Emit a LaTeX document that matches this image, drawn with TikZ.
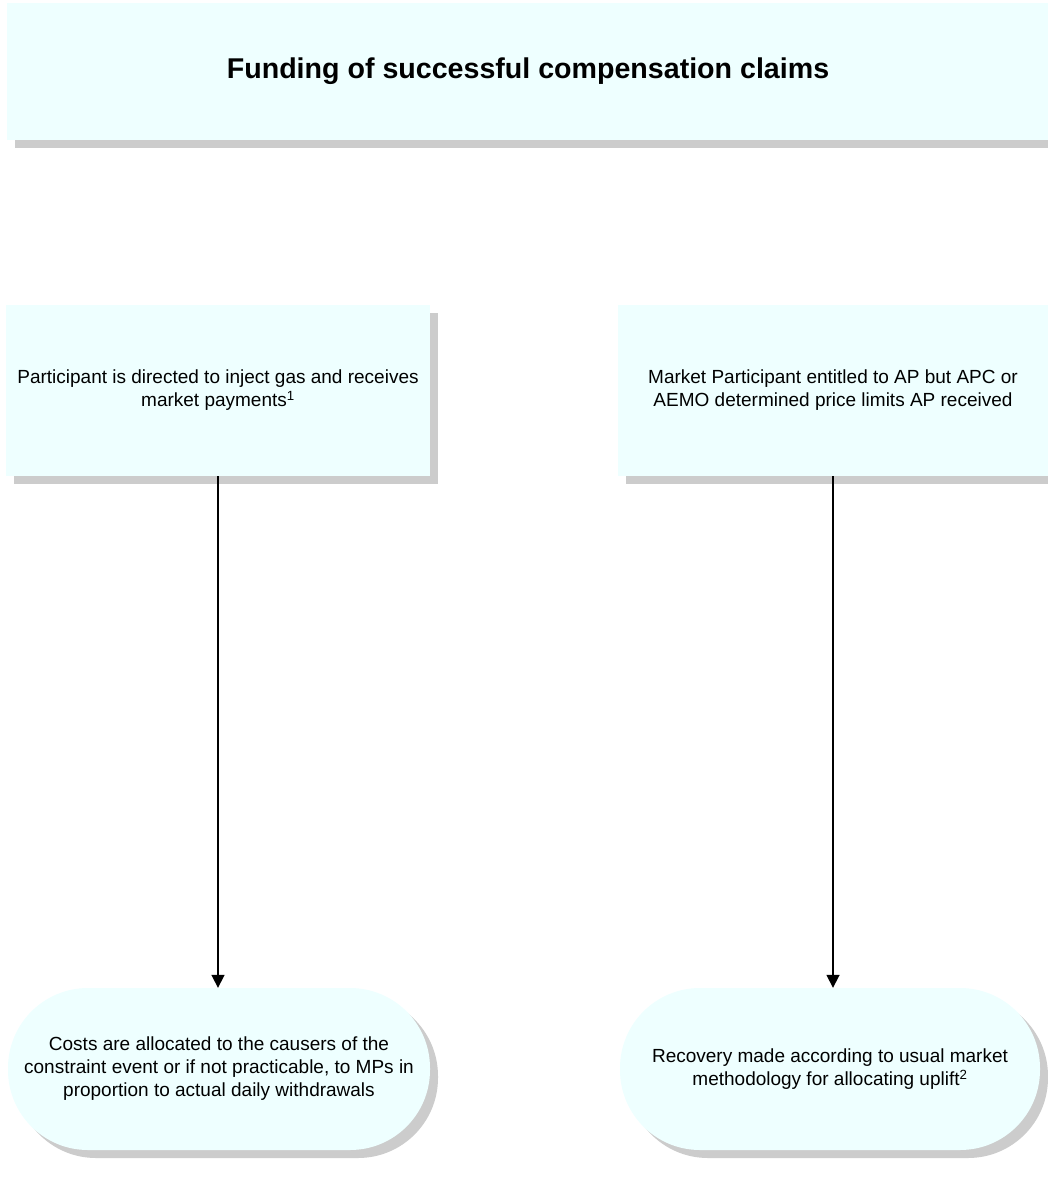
\documentclass[tikz,border=0pt]{standalone}
\usepackage{fontspec}
\setmainfont{Liberation Sans}
\usetikzlibrary{shadows,arrows.meta,shapes.misc}
\definecolor{boxfill}{HTML}{EEFFFF}
\definecolor{shadowgray}{HTML}{CCCCCC}
\tikzset{
  shad/.style={drop shadow={shadow xshift=8pt, shadow yshift=-8pt, fill=shadowgray, opacity=1}},
  bodytext/.style={font=\fontsize{19}{23}\selectfont, align=center, text=black},
  flatbox/.style={rectangle, fill=boxfill, draw=none, inner sep=0pt, shad, bodytext},
  pill/.style={rectangle, rounded corners=80pt, fill=boxfill, draw=none, inner sep=0pt, shad, bodytext},
  conn/.style={line width=1.7pt, -{Triangle[width=13pt,length=13pt]}},
}
\begin{document}
\begin{tikzpicture}[x=1pt,y=-1pt]
\useasboundingbox (0,0) rectangle (1048,1192);
\clip (0,0) rectangle (1048,1192);
\fill[white] (0,0) rectangle (1048,1192);

\node[flatbox, minimum width=1042pt, minimum height=137pt,
      font=\fontsize{28.6}{34}\selectfont\bfseries] (title) at (528,71)
  {Funding of successful compensation claims};

\node[flatbox, minimum width=424pt, minimum height=171pt] (l1) at (218,390.5)
  {Participant is directed to inject gas and receives\\market payments\textsuperscript{1}};
\node[flatbox, minimum width=430pt, minimum height=171pt] (r1) at (833,390.5)
  {Market Participant entitled to AP but APC or\\AEMO determined price limits AP received};

\node[pill, minimum width=422pt, minimum height=162pt] (l2) at (219,1069)
  {Costs are allocated to the causers of the\\constraint event or if not practicable, to MPs in\\proportion to actual daily withdrawals};
\node[pill, minimum width=420pt, minimum height=162pt] (r2) at (830,1069)
  {Recovery made according to usual market\\methodology for allocating uplift\textsuperscript{2}};

\draw[conn] (l1.south) -- (l1.south |- l2.north);
\draw[conn] (r1.south) -- (r1.south |- r2.north);
\end{tikzpicture}
\end{document}
